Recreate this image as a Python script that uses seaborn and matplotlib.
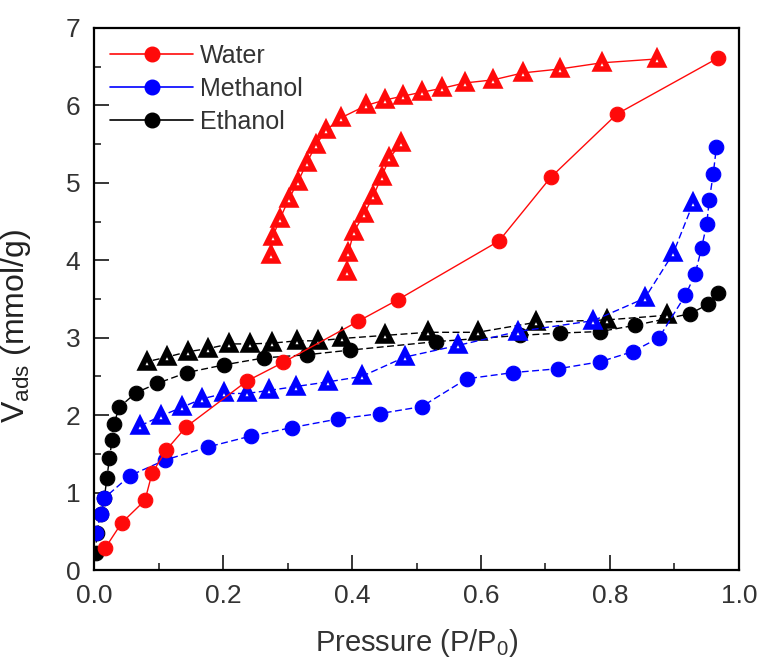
import numpy as np
import pandas as pd
import matplotlib
matplotlib.use("Agg")
import matplotlib.pyplot as plt
from matplotlib.ticker import MultipleLocator
from matplotlib.lines import Line2D
import seaborn as sns

# ---- isotherm data (relative pressure P/P0, adsorbed amount mmol/g) ----
water_ads_p = [0.017, 0.043, 0.079, 0.090, 0.112, 0.143, 0.237, 0.293, 0.409,
               0.471, 0.628, 0.708, 0.811, 0.967]
water_ads_v = [0.28, 0.61, 0.90, 1.25, 1.55, 1.85, 2.44, 2.68, 3.21,
               3.49, 4.25, 5.07, 5.89, 6.61]

water_des_p = [0.873, 0.787, 0.722, 0.665, 0.619, 0.575, 0.539, 0.508, 0.479,
               0.451, 0.422, 0.383, 0.360, 0.344, 0.330, 0.316, 0.302, 0.288,
               0.277, 0.274]
water_des_v = [6.60, 6.55, 6.47, 6.42, 6.33, 6.29, 6.22, 6.17, 6.12,
               6.07, 6.00, 5.84, 5.68, 5.49, 5.26, 5.01, 4.79, 4.53,
               4.30, 4.07]

water_des2_p = [0.476, 0.458, 0.446, 0.433, 0.419, 0.403, 0.394, 0.392]
water_des2_v = [5.51, 5.32, 5.08, 4.83, 4.60, 4.37, 4.09, 3.85]

meoh_ads_p = [0.003, 0.011, 0.016, 0.056, 0.110, 0.177, 0.243, 0.307, 0.378,
              0.443, 0.508, 0.578, 0.650, 0.720, 0.785, 0.835, 0.876, 0.917,
              0.932, 0.942, 0.950, 0.954, 0.960, 0.965]
meoh_ads_v = [0.48, 0.73, 0.93, 1.22, 1.42, 1.59, 1.73, 1.84, 1.95,
              2.02, 2.11, 2.47, 2.55, 2.60, 2.69, 2.82, 3.00, 3.55,
              3.82, 4.16, 4.47, 4.78, 5.11, 5.46]

meoh_des_p = [0.929, 0.898, 0.854, 0.774, 0.657, 0.564, 0.482, 0.415, 0.363,
              0.313, 0.272, 0.237, 0.202, 0.167, 0.136, 0.104, 0.071]
meoh_des_v = [4.74, 4.09, 3.51, 3.22, 3.08, 2.90, 2.75, 2.50, 2.43,
              2.37, 2.32, 2.28, 2.28, 2.21, 2.10, 1.99, 1.86]

etoh_ads_p = [0.003, 0.004, 0.011, 0.016, 0.020, 0.024, 0.028, 0.031, 0.039,
              0.065, 0.098, 0.144, 0.202, 0.264, 0.330, 0.397, 0.531, 0.660,
              0.722, 0.785, 0.839, 0.924, 0.952, 0.967]
etoh_ads_v = [0.22, 0.48, 0.73, 0.93, 1.19, 1.45, 1.68, 1.89, 2.10,
              2.29, 2.41, 2.55, 2.65, 2.74, 2.78, 2.84, 2.95, 3.03,
              3.06, 3.08, 3.16, 3.31, 3.43, 3.58]

etoh_des_p = [0.888, 0.795, 0.686, 0.595, 0.518, 0.451, 0.384, 0.347, 0.315,
              0.276, 0.242, 0.210, 0.177, 0.146, 0.113, 0.082]
etoh_des_v = [3.29, 3.23, 3.20, 3.07, 3.07, 3.03, 2.99, 2.96, 2.96,
              2.93, 2.92, 2.92, 2.86, 2.82, 2.75, 2.69]

series_names = ["Water", "Methanol", "Ethanol"]
series_colors = {"Water": "#ff0a0a", "Methanol": "#0000ff", "Ethanol": "#000000"}

sns.set_style("ticks")
plt.rcParams["font.family"] = ["Liberation Sans Narrow", "Liberation Sans", "DejaVu Sans"]
plt.rcParams["mathtext.default"] = "regular"

fig = plt.figure(figsize=(7.57, 6.66), dpi=100)
ax = fig.add_axes([0.1242, 0.1441, 0.852, 0.8139])

dash = (0, (5, 2.5))


def draw(p, v, color, marker, ls):
    df = pd.DataFrame({"p": p, "v": v})
    if marker == "o":
        mk = dict(marker="o", markersize=10.5, markerfacecolor=color,
                  markeredgecolor=color, markeredgewidth=0.8)
    else:
        mk = dict(marker="^", markersize=8.0, markerfacecolor="white",
                  markeredgecolor=color, markeredgewidth=4.0)
    sns.lineplot(data=df, x="p", y="v", sort=False, estimator=None, ax=ax,
                 color=color, linewidth=1.0, linestyle=ls, legend=False, **mk)


draw(etoh_ads_p, etoh_ads_v, series_colors["Ethanol"], "o", dash)
draw(etoh_des_p, etoh_des_v, series_colors["Ethanol"], "^", dash)
draw(meoh_ads_p, meoh_ads_v, series_colors["Methanol"], "o", dash)
draw(meoh_des_p, meoh_des_v, series_colors["Methanol"], "^", dash)
draw(water_ads_p, water_ads_v, series_colors["Water"], "o", "-")
draw(water_des_p, water_des_v, series_colors["Water"], "^", "-")
draw(water_des2_p, water_des2_v, series_colors["Water"], "^", "-")

ax.set_xlim(0.0, 1.0)
ax.set_ylim(0, 7)
ax.xaxis.set_major_locator(MultipleLocator(0.2))
ax.xaxis.set_minor_locator(MultipleLocator(0.1))
ax.yaxis.set_major_locator(MultipleLocator(1))
ax.yaxis.set_minor_locator(MultipleLocator(0.5))
ax.xaxis.set_major_formatter(plt.FuncFormatter(lambda v, _: f"{v:.1f}"))
ax.tick_params(which="major", direction="in", length=11, width=1.3,
               labelsize=19, labelcolor="#333333", pad=10)
ax.tick_params(which="minor", direction="in", length=5, width=1.2)
ax.tick_params(top=False, right=False)
for s in ax.spines.values():
    s.set_linewidth(1.6)
    s.set_color("black")

ax.set_xlabel("Pressure (P/P$_0$)", fontsize=21, color="#333333", labelpad=14)
ax.set_ylabel("V$_{ads}$ (mmol/g)", fontsize=23, color="#222222", labelpad=12)
ax.yaxis.set_label_coords(-0.095, 0.45)

handles = [Line2D([0], [0], color=series_colors[n], lw=1.2, marker="o",
                  markersize=10.5, markerfacecolor=series_colors[n],
                  markeredgecolor=series_colors[n]) for n in series_names]
leg = ax.legend(handles, series_names, loc="upper left", frameon=False,
                fontsize=18, handlelength=3.3, handletextpad=0.3,
                labelspacing=0.35, borderaxespad=0.25, bbox_to_anchor=(0.0, 1.0))
for t in leg.get_texts():
    t.set_color("#333333")

fig.savefig("out.png", dpi=100)
